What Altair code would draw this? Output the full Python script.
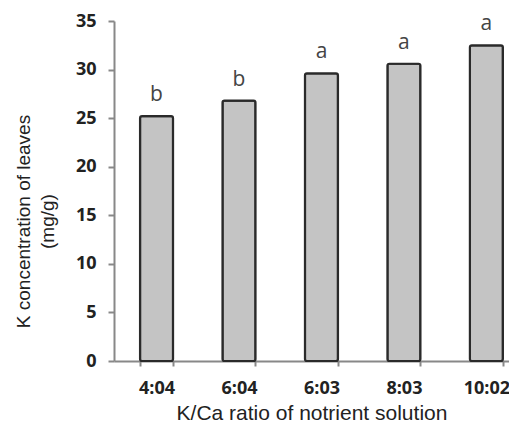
import altair as alt
import pandas as pd

categories = ["4:04", "6:04", "6:03", "8:03", "10:02"]
values = [25.2, 26.8, 29.6, 30.6, 32.5]
letters = ["b", "b", "a", "a", "a"]

df = pd.DataFrame({"ratio": categories, "k": values, "sig": letters})

x = alt.X(
    "ratio:N",
    sort=categories,
    scale=alt.Scale(paddingInner=0.6, paddingOuter=0.195, align=0.81),
    axis=alt.Axis(
        title="K/Ca ratio of notrient solution",
        titleFont="Liberation Sans",
        titleFontSize=21,
        titleFontWeight="normal",
        titleColor="#222",
        titlePadding=5,
        labelAngle=0,
        labelFont="Open Sans",
        labelFontSize=18,
        labelFontWeight="bold",
        labelColor="#222",
        labelPadding=13,
        tickBand="extent",
        tickSize=5,
        tickColor="#888",
        tickWidth=2,
        domainColor="#888",
        domainWidth=2,
    ),
)

y = alt.Y(
    "k:Q",
    scale=alt.Scale(domain=[0, 35], nice=False),
    axis=alt.Axis(
        values=[0, 5, 10, 15, 20, 25, 30, 35],
        title=["K concentration of leaves", "(mg/g)"],
        titleFont="Liberation Sans",
        titleFontSize=19,
        titleFontWeight="normal",
        titleColor="#222",
        titleLineHeight=24,
        titleAngle=-90,
        titleX=-81,
        titleY=200,
        titleAlign="center",
        titleBaseline="bottom",
        labelFont="Open Sans",
        labelFontSize=18,
        labelFontWeight="bold",
        labelColor="#222",
        labelPadding=12,
        tickSize=6,
        tickColor="#888",
        tickWidth=2,
        domainColor="#888",
        domainWidth=2,
        grid=False,
    ),
)

bars = alt.Chart(df).mark_bar(
    fill="#c4c4c4", stroke="#2a2a2a", strokeWidth=2.2, cornerRadius=2
).encode(x=x, y=y)

text = alt.Chart(df).mark_text(
    baseline="bottom", dy=-11, font="Open Sans", fontSize=21, color="#444"
).encode(x=alt.X("ratio:N", sort=categories), y="k:Q", text="sig:N")

chart = (
    alt.layer(bars, text)
    .properties(
        width=395,
        height=340,
        autosize=alt.AutoSizeParams(type="none"),
        padding={"left": 106, "top": 13, "right": 0, "bottom": 65},
    )
    .configure_view(stroke=None)
)

chart.save("out.html", embed_options={"renderer": "svg", "actions": False})
